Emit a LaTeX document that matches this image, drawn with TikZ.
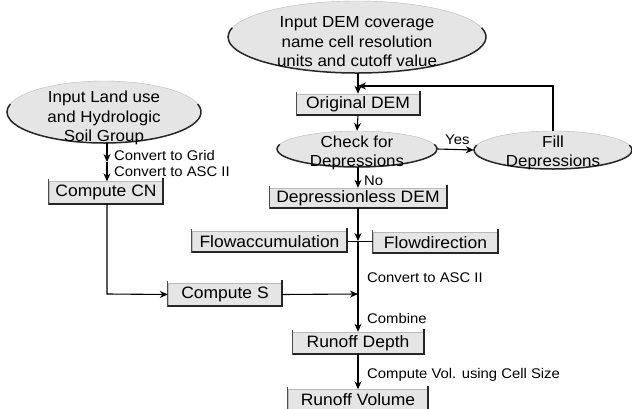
\documentclass[tikz,border=0pt]{standalone}
\usepackage{fontspec}
\setmainfont[FakeStretch=1.06]{Liberation Sans}
\usetikzlibrary{shapes.geometric,arrows.meta,calc}
\newcommand\ellshade[3]{\draw[line width=1.5pt,black!85] ($(#1.center)+(-15:#2 and #3)$) arc[start angle=-15,end angle=195,x radius=#2,y radius=#3];}
\newcommand\boxshade[1]{\draw[line width=1.7pt,black!85] (#1.south west) -- (#1.south east) -- ([yshift=3pt]#1.north east);
  \draw[line width=0.7pt,black!70] ([yshift=-1pt]#1.south west) -- ([yshift=2pt]#1.north west);}
\begin{document}
\begin{tikzpicture}[x=1pt,y=-1pt,
  ell/.style={ellipse,fill=gray!20,draw=gray!55,line width=0.4pt,inner sep=0pt},
  etext/.style={align=center,inner sep=0pt,font=\fontsize{16}{19.5}\selectfont},
  fbox/.style={rectangle,fill=gray!20,draw=gray!55,line width=0.4pt,inner sep=0pt,font=\fontsize{16.5}{19}\selectfont},
  lab/.style={anchor=west,inner sep=0pt,font=\fontsize{14}{16}\selectfont},
  arr/.style={-{Stealth[length=8pt,width=7pt]},line width=1.1pt},
  ln/.style={line width=1.1pt}]
\useasboundingbox (0,0) rectangle (632,409);

% ellipses
\node[ell,minimum width=258pt,minimum height=72pt] (dem) at (357,37) {};
\ellshade{dem}{129}{36}
\node[etext] (demt) at (357,42) {Input DEM coverage\\name cell resolution\\units and cutoff value};

\node[ell,minimum width=194pt,minimum height=62pt] (land) at (104,112) {};
\ellshade{land}{97}{31}
\node[etext] (landt) at (104,118) {Input Land use\\and Hydrologic\\Soil Group};

\node[ell,minimum width=160pt,minimum height=36pt] (chk) at (357,149) {};
\ellshade{chk}{80}{18}
\node[etext] (chkt) at (357,153) {Check for\\Depressions};

\node[ell,minimum width=158pt,minimum height=38pt] (fill) at (553,150) {};
\ellshade{fill}{79}{19}
\node[etext] (fillt) at (553,153) {Fill\\Depressions};

% boxes
\node[fbox,minimum width=123pt,minimum height=21pt] (orig) at (358,104.5) {Original DEM};
\node[fbox,minimum width=177pt,minimum height=20pt] (depl) at (358,198) {Depressionless DEM};
\node[fbox,minimum width=155pt,minimum height=21pt] (facc) at (269.5,241.5) {Flowaccumulation};
\node[fbox,minimum width=125pt,minimum height=21pt] (fdir) at (435.5,242.5) {Flowdirection};
\node[fbox,minimum width=114pt,minimum height=22pt] (cn) at (106,192.5) {Compute CN};
\node[fbox,minimum width=114pt,minimum height=23pt] (cs) at (225,294.5) {Compute S};
\node[fbox,minimum width=131pt,minimum height=22pt] (rd) at (358,343) {Runoff Depth};
\node[fbox,minimum width=140pt,minimum height=21pt] (rv) at (358,400) {Runoff Volume};
\foreach \n in {orig,depl,facc,fdir,cn,cs,rd,rv} {\boxshade{\n}}

% coordinates
\coordinate (fbj) at (358,86);
\coordinate (jn) at (358,241);
\coordinate (csj) at (358,294);
\coordinate (lmid) at (107,162);
\coordinate (cnc) at (107,294);

% connectors
\draw[arr] (dem.south -| orig.north) -- (orig.north);
\draw[arr] (fill.north) |- (fbj);
\draw[arr] (orig.south) -- (chk.south |- chk.north) ;
\draw[arr] (chk.east) -- (fill.west);
\draw[arr] (chk.south -| depl.north) -- (depl.north);
\draw[ln] (facc.east) -- (fdir.west |- facc.east);
\draw[arr] (depl.south) -- (jn);
\draw[arr] (jn) -- (rd.north);
\draw[arr] (cs.east) -- (csj);
\draw[arr] (rd.south) -- (rv.north);
\draw[arr] (land.south -| lmid) -- (lmid);
\draw[arr] (lmid) -- (lmid |- cn.north);
\draw[arr] (lmid |- cn.south) -- (cnc) -- (cs.west);

% labels
\node[lab] (yes) at (445,140) {Yes};
\node[lab] (no) at (364,181) {No};
\node[lab] (g1) at (114,155) {Convert to Grid};
\node[lab] (g2) at (114,172) {Convert to ASC II};
\node[lab] (asc) at (367,278) {Convert to ASC II};
\node[lab] (comb) at (367,318) {Combine};
\node[lab] (vol) at (367,375) {Compute Vol. using Cell Size};
\end{tikzpicture}
\end{document}
